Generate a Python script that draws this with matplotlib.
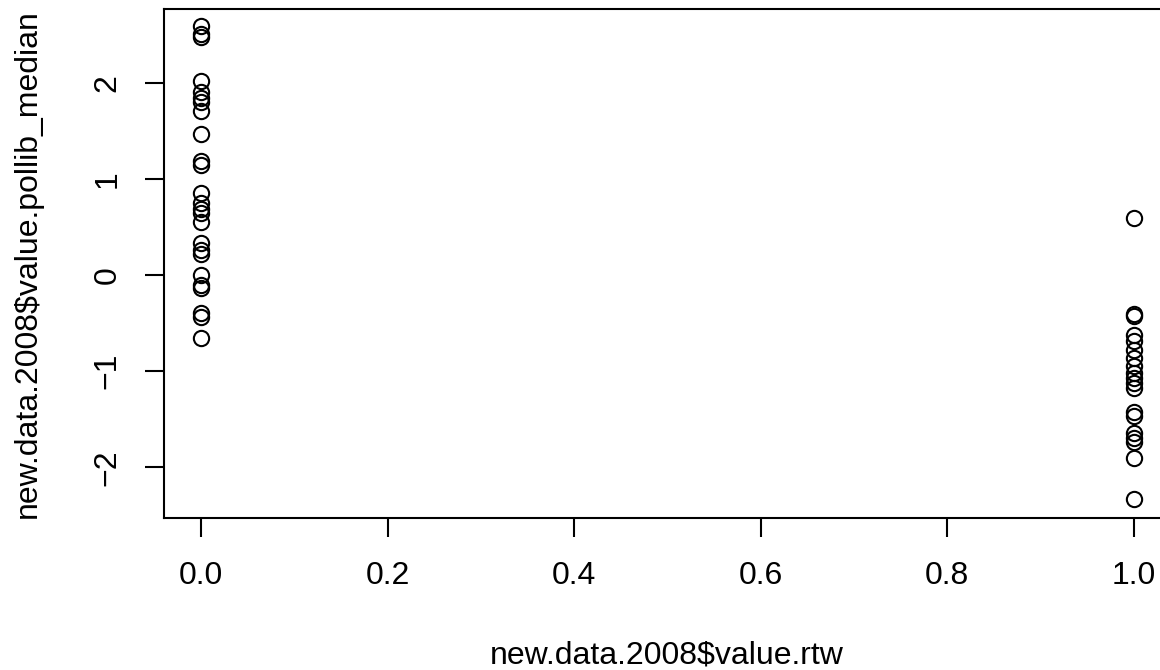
import matplotlib.pyplot as plt

plt.rcParams['font.family'] = ['Liberation Sans', 'DejaVu Sans']

# rtw == 0 group
rtw_zero = [2.59, 2.51, 2.47, 2.02, 1.90, 1.84, 1.80, 1.71, 1.47, 1.19, 1.14,
            0.85, 0.75, 0.69, 0.65, 0.55, 0.33, 0.26, 0.22, 0.0, -0.10, -0.13,
            -0.39, -0.44, -0.65]
# rtw == 1 group
rtw_one = [0.59, -0.41, -0.43, -0.62, -0.69, -0.78, -0.86, -0.95, -1.02, -1.07,
           -1.12, -1.17, -1.42, -1.47, -1.64, -1.69, -1.74, -1.90, -2.33]

x_vals = [0.0] * len(rtw_zero) + [1.0] * len(rtw_one)
y_vals = rtw_zero + rtw_one

fig = plt.figure(figsize=(11.6, 6.7), dpi=100)
ax = fig.add_axes([0.1411, 0.2269, 0.8684, 0.7597])

ax.plot(x_vals, y_vals, linestyle='none', marker='o', markersize=11,
        markerfacecolor='none', markeredgecolor='black', markeredgewidth=1.5)

ax.set_xlim(-0.04, 1.04)
ax.set_ylim(-2.526, 2.766)
ax.set_xticks([0.0, 0.2, 0.4, 0.6, 0.8, 1.0])
ax.set_xticklabels(['0.0', '0.2', '0.4', '0.6', '0.8', '1.0'], va='center')
ax.set_yticks([-2, -1, 0, 1, 2])
ax.set_yticklabels(['\u22122', '\u22121', '0', '1', '2'], rotation=90,
                   va='center', ha='center')

ax.tick_params(axis='both', labelsize=23, length=13.7, width=1.5, direction='out')
ax.tick_params(axis='x', pad=28)
ax.tick_params(axis='y', pad=26.6)
for s in ax.spines.values():
    s.set_linewidth(1.5)

ax.set_xlabel('new.data.2008$value.rtw', fontsize=23, va='center')
ax.set_ylabel('new.data.2008$value.pollib_median', fontsize=23, va='center')
ax.xaxis.set_label_coords(667 / 1160, 1 - 656 / 670, transform=fig.transFigure)
ax.yaxis.set_label_coords(28 / 1160, 1 - 264 / 670, transform=fig.transFigure)

fig.savefig('out.png', dpi=100)
